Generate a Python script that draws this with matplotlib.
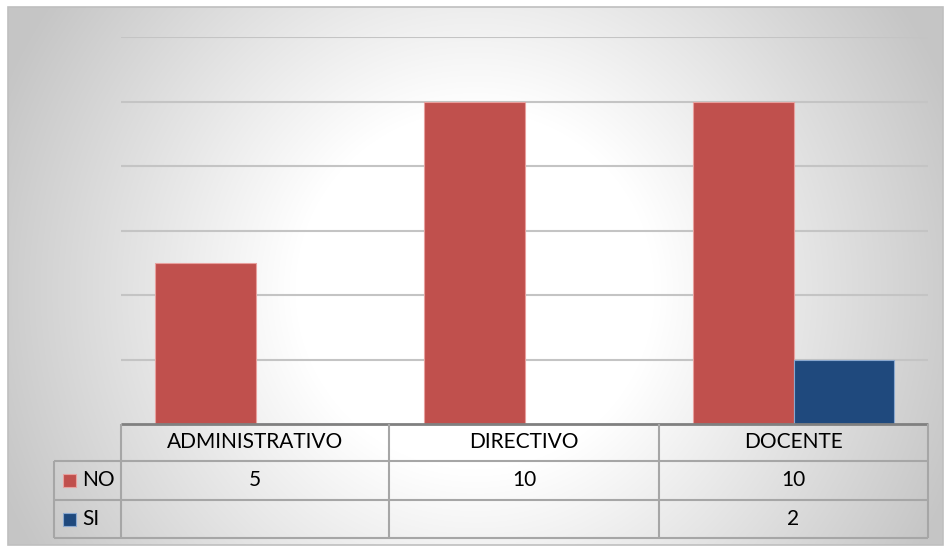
import numpy as np
import matplotlib.pyplot as plt
from matplotlib.patches import Rectangle

plt.rcParams['font.family'] = ['Lato', 'DejaVu Sans']

categorias = ['ADMINISTRATIVO', 'DIRECTIVO', 'DOCENTE']
series = ['NO', 'SI']
valores_no = [5, 10, 10]
valores_si = [None, None, 2]
colores = {'NO': '#C0504D', 'SI': '#1F497D'}
bordes = {'NO': '#E8A09E', 'SI': '#8AA8CF'}

W, H = 944, 547
fig = plt.figure(figsize=(W / 100, H / 100), dpi=100)
fig.patch.set_facecolor('white')


def fx(x):
    return x / W


def fy(y):
    return 1 - y / H


# fondo con degradado radial
x0, y0, x1, y1 = 8, 7, 943, 545
bg = fig.add_axes([fx(x0), fy(y1), fx(x1 - x0), (y1 - y0) / H], zorder=0)
xx, yy = np.meshgrid(np.arange(x0, x1), np.arange(y0, y1))
d = np.hypot(xx - 475, yy - 290)
gris = 255 - 57 * np.clip((d - 180) / 330, 0, 1)
img = np.dstack([gris, gris, gris]) / 255
bg.imshow(img, aspect='auto', extent=[x0, x1, y1, y0])
bg.set_xlim(x0, x1)
bg.set_ylim(y1, y0)
bg.axis('off')

# área de trazado
left, right, top, base = 121, 928, 37, 424
ax = fig.add_axes([fx(left), fy(base), fx(right - left), (base - top) / H], zorder=2)
ax.patch.set_alpha(0)
ax.set_xlim(0, len(categorias))
ax.set_ylim(0, 12)
ax.set_yticks(range(2, 13, 2))
ax.yaxis.grid(True, color='#C4C4C4', linewidth=1.5)
ax.set_axisbelow(True)
ax.tick_params(left=False, bottom=False, labelleft=False, labelbottom=False)
for s in ax.spines.values():
    s.set_visible(False)

ancho = 0.375
pos = np.arange(len(categorias)) + 0.5
no = [v if v is not None else 0 for v in valores_no]
si = [v if v is not None else 0 for v in valores_si]
ax.bar(pos - ancho / 2, no, ancho, color=colores['NO'], edgecolor=bordes['NO'], linewidth=0.8)
ax.bar(pos + ancho / 2, si, ancho, color=colores['SI'], edgecolor=bordes['SI'], linewidth=0.8)

# tabla de datos bajo el gráfico
tab = fig.add_axes([0, 0, 1, 1], zorder=3)
tab.patch.set_alpha(0)
tab.set_xlim(0, W)
tab.set_ylim(H, 0)
tab.axis('off')

cols = [121, 389, 659, 928]
filas = [424, 461, 500, 538]
leg_x = 54
lc = '#A6A6A6'
lw = 1.5

# líneas horizontales
tab.plot([left, right], [filas[0], filas[0]], color='#808080', linewidth=2, solid_capstyle='butt')
for y in filas[1:]:
    tab.plot([leg_x, right], [y, y], color=lc, linewidth=lw, solid_capstyle='butt')
# líneas verticales
for x in cols:
    tab.plot([x, x], [filas[0], filas[-1]], color=lc, linewidth=lw, solid_capstyle='butt')
tab.plot([leg_x, leg_x], [filas[1], filas[-1]], color=lc, linewidth=lw, solid_capstyle='butt')

fs = 15
for i, cat in enumerate(categorias):
    cx = (cols[i] + cols[i + 1]) / 2
    tab.text(cx, (filas[0] + filas[1]) / 2, cat, ha='center', va='center', fontsize=fs, color='black')
    for j, vals in enumerate([valores_no, valores_si]):
        if vals[i] is not None:
            tab.text(cx, (filas[j + 1] + filas[j + 2]) / 2, str(vals[i]), ha='center', va='center',
                     fontsize=fs, color='black')

for j, nombre in enumerate(series):
    cy = (filas[j + 1] + filas[j + 2]) / 2
    tab.add_patch(Rectangle((63, cy - 6.5), 13, 13, facecolor=colores[nombre],
                            edgecolor=bordes[nombre], linewidth=0.8))
    tab.text(82, cy, nombre, ha='left', va='center', fontsize=fs, color='black')

# borde exterior del gráfico
tab.add_patch(Rectangle((x0, y0), x1 - x0, y1 - y0, fill=False, edgecolor='#BFBFBF', linewidth=1.2))

fig.savefig('out.png', dpi=100)
